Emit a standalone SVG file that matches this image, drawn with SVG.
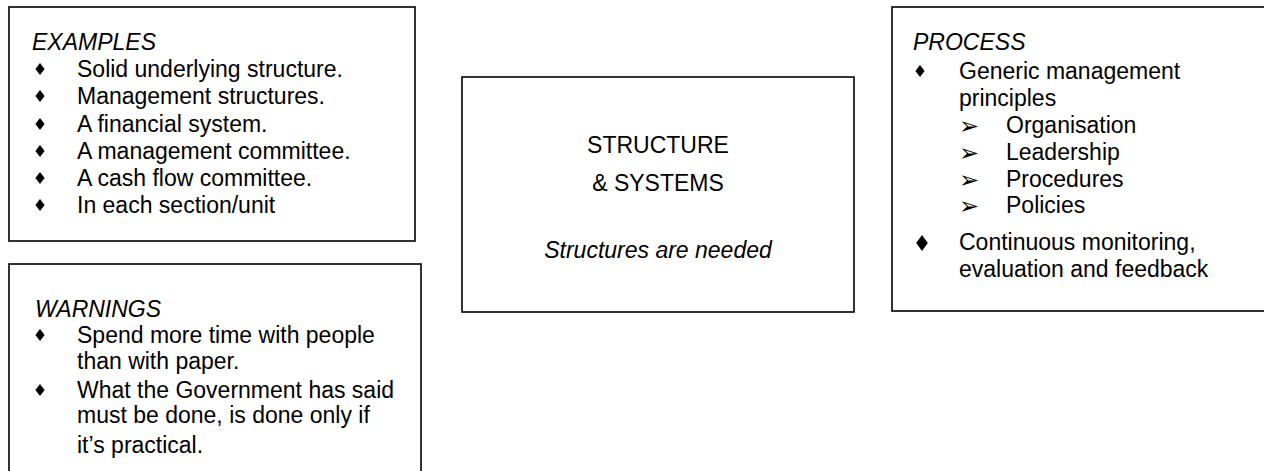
<svg xmlns="http://www.w3.org/2000/svg" width="1264" height="471" viewBox="0 0 1264 471">
<style>
.box{fill:#fff;stroke:#000;stroke-width:1.6}
text{font-family:"Liberation Sans",Arial,sans-serif;font-size:23px;fill:#000}
.it{font-style:italic}
.arr{font-family:"DejaVu Sans",sans-serif;font-size:24px}
.mid{text-anchor:middle}
</style>
<defs>
<path id="dia" d="M0,-6 L4.6,0 L0,6 L-4.6,0 Z" fill="#000"/>
<path id="diaL" d="M0,-8 L5.8,0 L0,8 L-5.8,0 Z" fill="#000"/>
</defs>
<g id="connectors"></g>
<g id="examples">
<rect class="box" x="9" y="7" width="406" height="234"/>
<text class="it" x="32" y="50">EXAMPLES</text>
<use href="#dia" x="40" y="69"/><text x="77" y="77">Solid underlying structure.</text>
<use href="#dia" x="40" y="96"/><text x="77" y="104">Management structures.</text>
<use href="#dia" x="40" y="124"/><text x="77" y="132">A financial system.</text>
<use href="#dia" x="40" y="151"/><text x="77" y="159">A management committee.</text>
<use href="#dia" x="40" y="178"/><text x="77" y="186">A cash flow committee.</text>
<use href="#dia" x="40" y="205"/><text x="77" y="213">In each section/unit</text>
</g>
<g id="warnings">
<rect class="box" x="9" y="264" width="412" height="220"/>
<text class="it" x="35" y="317">WARNINGS</text>
<use href="#dia" x="40" y="335"/><text x="77" y="343">Spend more time with people</text>
<text x="77" y="369">than with paper.</text>
<use href="#dia" x="40" y="390"/><text x="77" y="398">What the Government has said</text>
<text x="77" y="423">must be done, is done only if</text>
<text x="77" y="453">it’s practical.</text>
</g>
<g id="center">
<rect class="box" x="462" y="77" width="392" height="235"/>
<text class="mid" x="658" y="153">STRUCTURE</text>
<text class="mid" x="658" y="191">&amp; SYSTEMS</text>
<text class="mid it" x="658" y="258">Structures are needed</text>
</g>
<g id="process">
<rect class="box" x="892" y="7" width="390" height="304"/>
<text class="it" x="913" y="50">PROCESS</text>
<use href="#dia" x="920" y="71"/><text x="959" y="79">Generic management</text>
<text x="959" y="106">principles</text>
<text class="arr" x="959" y="134">➢</text><text x="1006" y="133">Organisation</text>
<text class="arr" x="959" y="161">➢</text><text x="1006" y="160">Leadership</text>
<text class="arr" x="959" y="188">➢</text><text x="1006" y="187">Procedures</text>
<text class="arr" x="959" y="214">➢</text><text x="1006" y="213">Policies</text>
<use href="#diaL" x="922" y="243"/><text x="959" y="250">Continuous monitoring,</text>
<text x="959" y="277">evaluation and feedback</text>
</g>
</svg>
